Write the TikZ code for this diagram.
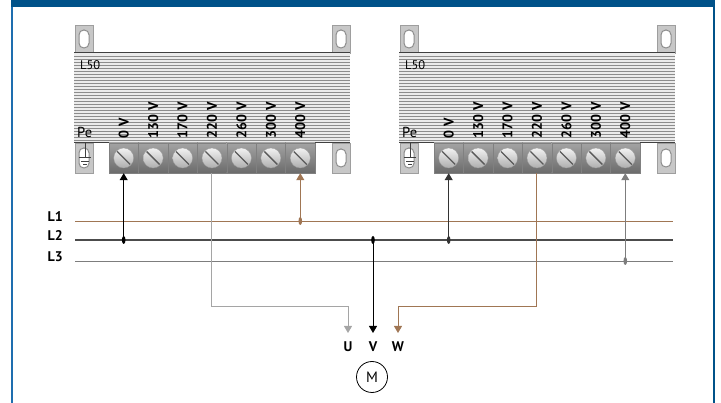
\documentclass[tikz,border=0pt]{standalone}
\usepackage{fontspec}
\setmainfont{PT Sans}
\usetikzlibrary{arrows.meta}

\definecolor{frameblue}{RGB}{0,82,137}
\definecolor{framelight}{RGB}{30,110,175}
\definecolor{wirebrown}{RGB}{160,118,84}
\definecolor{wiregray}{RGB}{125,125,125}
\definecolor{wirelight}{RGB}{165,165,165}

\begin{document}
\begin{tikzpicture}[x=1pt, y=-1pt,
    terminal/.style={rectangle, minimum width=29.4pt, minimum height=30pt, inner sep=0pt,
        top color=black!36, bottom color=black!58, draw=black!50, line width=0.4pt},
    screw/.style={top color=black!5, bottom color=black!32, draw=black!40, line width=0.3pt},
    screwslot/.style={draw=black!65, line width=1.3pt},
    bracket/.style={fill=black!22, draw=black!38, line width=0.6pt},
    slothole/.style={fill=white, draw=black!45, line width=1pt, rounded corners=4.8pt},
    stripe/.style={draw=black!45, line width=0.5pt},
    voltlabel/.style={rotate=90, anchor=west, inner sep=0pt, font=\fontsize{14}{16}\selectfont\bfseries},
    linelabel/.style={anchor=base east, inner sep=0pt, font=\fontsize{14}{16}\selectfont\bfseries},
    motorpin/.style={anchor=base, inner sep=0pt, font=\fontsize{14}{16}\selectfont\bfseries},
    motor/.style={circle, draw, line width=0.8pt, minimum size=31pt, inner sep=0pt, font=\fontsize{15}{17}\selectfont},
    wire/.style={line width=1pt, -{Triangle[width=8pt,length=7pt]}},
    junction/.style={x radius=1.8pt, y radius=4pt}]
    \useasboundingbox (0,0) rectangle (721,403);

    % Frame
    \fill[frameblue] (11,0) rectangle (715,7);
    \draw[framelight, line width=2pt] (12,7) -- (12,403);
    \draw[frameblue, line width=2pt] (714,7) -- (714,403);

    % Transformers
    \foreach \dx/\nm in {0/A, 325/B} {
        \begin{scope}[xshift=\dx]
            % Mounting brackets
            \foreach \bx in {84, 341} {
                \draw[bracket] (\bx-9,25) rectangle (\bx+9,53);
                \draw[bracket] (\bx-9,143) rectangle (\bx+9,173);
                \draw[slothole] (\bx-5,30) rectangle (\bx+5,48);
            }
            \draw[slothole] (336,149) rectangle (346,167);
            \draw[slothole] (79,148) rectangle (89,168);
            \draw[black!75, line width=0.8pt] (85,142) -- (85,157.5)
                (79,157.5) -- (91,157.5) (81,161) -- (89,161) (83,164.5) -- (87,164.5);

            % Body with cooling fins
            \fill[black!8] (74,53) rectangle (350,143);
            \foreach \s in {1,...,29}
                \draw[stripe] (74,53+3*\s) -- (350,53+3*\s);
            \draw[black!75, line width=1pt] (74,53) -- (350,53) (74,143) -- (350,143);
            \node[anchor=base west, inner sep=0pt, font=\fontsize{12.5}{14}\selectfont] (\nm-type) at (80,70) {L50};
            \node[anchor=base west, inner sep=0pt, font=\fontsize{14.5}{16}\selectfont] (\nm-pe) at (77,138) {Pe};

            % Terminal strip
            \foreach \v [count=\i from 0] in {0,130,170,220,260,300,400} {
                \node[terminal] (\nm-t\i) at ({123.7+29.43*\i},158) {};
                \shade[screw] (\nm-t\i.center) circle (10pt);
                \draw[screwslot] ([shift={(-6.5,-6.5)}]\nm-t\i.center) -- ([shift={(6.5,6.5)}]\nm-t\i.center);
                \node[voltlabel] (\nm-v\i) at ({123.7+29.43*\i},138.5) {\v\ V};
            }
        \end{scope}
    }

    % Supply lines
    \foreach \k/\y/\c/\w in {1/221/wirebrown/0.8, 2/240/black!70/1.3, 3/261/wiregray/0.9} {
        \coordinate (L\k w) at (75,\y);
        \coordinate (L\k e) at (673,\y);
        \draw[draw=\c, line width=\w] (L\k w) -- (L\k e);
        \node[linelabel] (L\k) at ([xshift=-12pt,yshift=-1pt]L\k w) {L\k};
    }

    % Motor
    \node[motorpin] (U) at (348,352) {U};
    \node[motorpin] (V) at (373,352) {V};
    \node[motorpin] (W) at (398,352) {W};
    \node[motor] (M) at (372,377) {M};

    % Junctions
    \coordinate (jA0) at (A-t0 |- L2w);
    \coordinate (jA6) at (A-t6 |- L1w);
    \coordinate (jB0) at (B-t0 |- L2w);
    \coordinate (jB6) at (B-t6 |- L3w);
    \coordinate (jV) at (V |- L2w);

    % Wiring
    \draw[wire, wirelight] (A-t3.south) |- ([yshift=45pt]U.base) -- ([yshift=19pt]U.base);
    \draw[wire, wirebrown] (B-t3.south) |- ([yshift=45pt]W.base) -- ([yshift=19pt]W.base);
    \draw[wire, black] (jV) -- ([yshift=19pt]V.base);
    \draw[wire, black] (jA0) -- (A-t0.south);
    \draw[wire, wirebrown] (jA6) -- (A-t6.south);
    \draw[wire, black!80] (jB0) -- (B-t0.south);
    \draw[wire, wiregray] (jB6) -- (B-t6.south);
    \fill[black] (jA0) ellipse [junction];
    \fill[wirebrown] (jA6) ellipse [junction];
    \fill[black] (jV) ellipse [junction];
    \fill[black!80] (jB0) ellipse [junction];
    \fill[wiregray] (jB6) ellipse [junction];
\end{tikzpicture}
\end{document}
